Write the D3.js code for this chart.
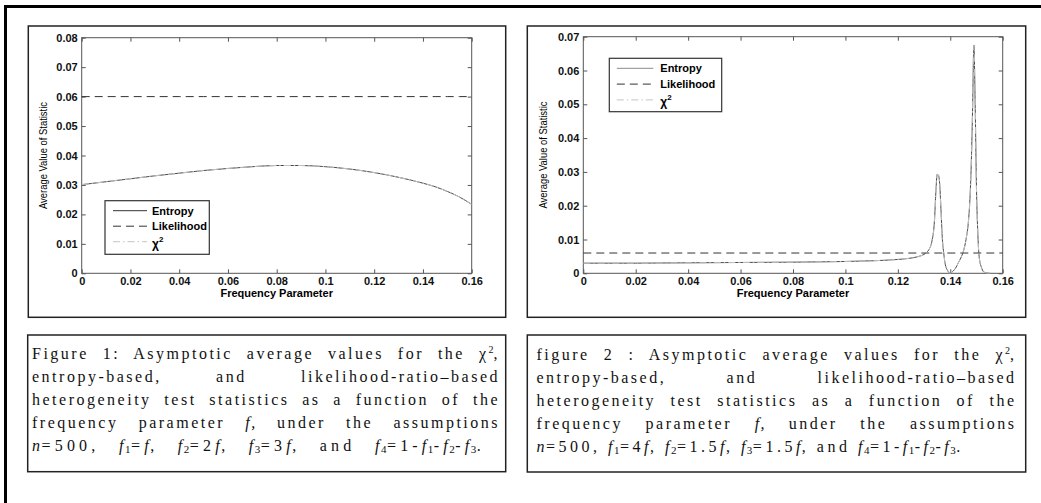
<!DOCTYPE html>
<html>
<head>
<meta charset="utf-8">
<script src="https://cdn.jsdelivr.net/npm/d3@7"></script>
<style>
  body { margin: 0; background: #fff; }
  #page { position: relative; width: 1041px; height: 503px; overflow: hidden; }
  svg { position: absolute; left: 0; top: 0; }
  .caption { position: absolute; font-family: "Liberation Serif", "Times New Roman", serif;
    font-size: 16px; line-height: 23px; letter-spacing: 2.5px; color: #111; }
  .caption .ln { text-align: justify; text-align-last: justify; white-space: nowrap; }
  .caption .ln.last { letter-spacing: 4.2px; }
  .caption .ln.left { text-align: left; text-align-last: left; }
  .caption i { letter-spacing: 1.5px; }
  .caption sub { font-size: 11px; line-height: 0; vertical-align: -2px; letter-spacing: 0.5px; }
  .caption sup { font-size: 10px; line-height: 0; vertical-align: 6px; letter-spacing: 0; }
  .tick text { font-family: "Liberation Sans", Arial, sans-serif; font-size: 11px; font-weight: bold; fill: #111; }
  .tick line { stroke: #555; }
</style>
</head>
<body>
<div id="page"></div>
<script>
'use strict';

// ---- figure 1 data (f1=f, f2=2f, f3=3f) ----
const fig1X = [0, 0.01, 0.02, 0.03, 0.04, 0.05, 0.06, 0.07, 0.08, 0.09, 0.10, 0.11, 0.12, 0.13, 0.14, 0.145, 0.15, 0.155, 0.16];
const fig1Entropy = [0.0301, 0.0311, 0.0321, 0.0331, 0.0340, 0.0349, 0.0356, 0.0362, 0.0366, 0.0366, 0.0362, 0.0354, 0.0342, 0.0326, 0.0306, 0.0294, 0.0278, 0.0259, 0.0234];
const fig1Chi2 = [0.0301, 0.0311, 0.0321, 0.0331, 0.0340, 0.0349, 0.0356, 0.0362, 0.0366, 0.0366, 0.0362, 0.0354, 0.0342, 0.0326, 0.0306, 0.0294, 0.0278, 0.0259, 0.0234];
const fig1Likelihood = [0.06, 0.06, 0.06, 0.06, 0.06, 0.06, 0.06, 0.06, 0.06, 0.06, 0.06, 0.06, 0.06, 0.06, 0.06, 0.06, 0.06, 0.06, 0.06];

// ---- figure 2 data (f1=4f, f2=1.5f, f3=1.5f) ----
const fig2X = [0, 0.02, 0.04, 0.06, 0.08, 0.10, 0.11, 0.12, 0.125, 0.128, 0.130, 0.131, 0.132, 0.133, 0.134, 0.1345, 0.135, 0.1355, 0.136, 0.1365, 0.137, 0.1375, 0.138, 0.139, 0.1398,
  0.141, 0.142, 0.143, 0.144, 0.145, 0.146, 0.147, 0.1475, 0.148, 0.1485, 0.149, 0.1495, 0.150, 0.1505, 0.151, 0.152, 0.153, 0.155];
const fig2Entropy = [0.0030, 0.0030, 0.0031, 0.0032, 0.0033, 0.0035, 0.0037, 0.0041, 0.0045, 0.0050, 0.0056, 0.0062, 0.0072, 0.0095, 0.0160, 0.0240, 0.0293, 0.0290, 0.0260, 0.0180, 0.0100, 0.0060, 0.0030, 0.0008, 0.0000,
  0.0006, 0.0015, 0.0030, 0.0045, 0.0065, 0.0100, 0.0160, 0.0220, 0.0320, 0.0480, 0.0675, 0.0500, 0.0250, 0.0120, 0.0050, 0.0015, 0.0003, 0.0000];
const fig2Chi2 = fig2Entropy.slice();
const fig2LikelihoodX = [0, 0.16];
const fig2Likelihood = [0.006, 0.006];

// ---- ticks ----
const xTicks = [0, 0.02, 0.04, 0.06, 0.08, 0.1, 0.12, 0.14, 0.16];
const xTickLabels = ['0', '0.02', '0.04', '0.06', '0.08', '0.1', '0.12', '0.14', '0.16'];
const fig1YTicks = [0, 0.01, 0.02, 0.03, 0.04, 0.05, 0.06, 0.07, 0.08];
const fig1YTickLabels = ['0', '0.01', '0.02', '0.03', '0.04', '0.05', '0.06', '0.07', '0.08'];
const fig2YTicks = [0, 0.01, 0.02, 0.03, 0.04, 0.05, 0.06, 0.07];
const fig2YTickLabels = ['0', '0.01', '0.02', '0.03', '0.04', '0.05', '0.06', '0.07'];

const seriesNames = ['Entropy', 'Likelihood', 'χ'];

const caption1Lines = [
  'Figure 1: Asymptotic average values for the χ<sup>2</sup>,',
  'entropy-based, and likelihood-ratio–based',
  'heterogeneity test statistics as a function of the',
  'frequency parameter <i>f,</i> under the assumptions',
  '<i>n</i>=500, <i>f</i><sub>1</sub>=<i>f</i>, <i>f</i><sub>2</sub>=2<i>f</i>, <i>f</i><sub>3</sub>=3<i>f</i>, and <i>f</i><sub>4</sub>=1-<i>f</i><sub>1</sub>-<i>f</i><sub>2</sub>-<i>f</i><sub>3</sub>.'
];
const caption2Lines = [
  'figure 2 : Asymptotic average values for the χ<sup>2</sup>,',
  'entropy-based, and likelihood-ratio–based',
  'heterogeneity test statistics as a function of the',
  'frequency parameter <i>f,</i> under the assumptions',
  '<i>n</i>=500, <i>f</i><sub>1</sub>=4<i>f</i>, <i>f</i><sub>2</sub>=1.5<i>f</i>, <i>f</i><sub>3</sub>=1.5<i>f</i>, and <i>f</i><sub>4</sub>=1-<i>f</i><sub>1</sub>-<i>f</i><sub>2</sub>-<i>f</i><sub>3</sub>.'
];

const W = 1041, H = 503;
const page = d3.select('#page');
const svg = page.append('svg').attr('width', W).attr('height', H);

// outer frame (runs off the right and bottom edge)
svg.append('rect')
  .attr('x', 5.5).attr('y', 6.5).attr('width', 1100).attr('height', 600)
  .attr('fill', 'none').attr('stroke', '#000').attr('stroke-width', 3);

// panel boxes
const boxes = [
  { x: 28.3, y: 26, w: 477.4, h: 291.3 },
  { x: 527.3, y: 26, w: 498.4, h: 291.3 },
  { x: 27.7, y: 335, w: 478, h: 136.7 },
  { x: 527.3, y: 335, w: 498.4, h: 137 }
];
svg.selectAll('rect.box')
  .data(boxes)
  .enter()
  .append('rect')
  .attr('class', 'box')
  .attr('x', d => d.x).attr('y', d => d.y)
  .attr('width', d => d.w).attr('height', d => d.h)
  .attr('fill', 'none').attr('stroke', '#222').attr('stroke-width', 1.5);

const styles = {
  Entropy: { stroke: '#4a4a4a', dash: null, width: 1 },
  Likelihood: { stroke: '#333', dash: '8,5', width: 1 },
  'χ': { stroke: '#c4c4c4', dash: '7,3,1.5,3', width: 1 }
};

const buildChart = (cfg) => {
  const x = d3.scaleLinear().domain([0, 0.16]).range([cfg.left, cfg.right]);
  const y = d3.scaleLinear().domain([0, cfg.yMax]).range([cfg.bottom, cfg.top]);
  const g = svg.append('g');

  // ticks on all four sides, pointing inward
  g.append('g')
    .attr('transform', 'translate(0,' + cfg.bottom + ')')
    .call(d3.axisBottom(x).tickValues(xTicks).tickFormat((d, i) => xTickLabels[i])
      .tickSizeInner(-4).tickSizeOuter(0).tickPadding(4))
    .call(a => a.select('.domain').remove());
  g.append('g')
    .attr('transform', 'translate(0,' + cfg.top + ')')
    .call(d3.axisTop(x).tickValues(xTicks).tickFormat('').tickSizeInner(-4).tickSizeOuter(0))
    .call(a => a.select('.domain').remove());
  g.append('g')
    .attr('transform', 'translate(' + cfg.left + ',0)')
    .call(d3.axisLeft(y).tickValues(cfg.yTicks).tickFormat((d, i) => cfg.yTickLabels[i])
      .tickSizeInner(-4).tickSizeOuter(0).tickPadding(4))
    .call(a => a.select('.domain').remove());
  g.append('g')
    .attr('transform', 'translate(' + cfg.right + ',0)')
    .call(d3.axisRight(y).tickValues(cfg.yTicks).tickFormat('').tickSizeInner(-4).tickSizeOuter(0))
    .call(a => a.select('.domain').remove());

  g.append('rect')
    .attr('x', cfg.left).attr('y', cfg.top)
    .attr('width', cfg.right - cfg.left).attr('height', cfg.bottom - cfg.top)
    .attr('fill', 'none').attr('stroke', '#555').attr('stroke-width', 1);

  // series
  const line = d3.line()
    .x(d => x(d[0]))
    .y(d => y(d[1]))
    .curve(d3.curveMonotoneX);
  cfg.series.forEach(s => {
    const st = styles[s.name];
    g.append('path')
      .datum(s.xs.map((v, i) => [v, s.ys[i]]))
      .attr('d', line)
      .attr('fill', 'none')
      .attr('stroke', st.stroke)
      .attr('stroke-width', st.width)
      .attr('stroke-dasharray', st.dash);
  });

  // axis labels
  g.append('text')
    .attr('x', (cfg.left + cfg.right) / 2)
    .attr('y', cfg.bottom + 23.5)
    .attr('text-anchor', 'middle')
    .style('font-family', '"Liberation Sans", Arial, sans-serif')
    .style('font-size', '11px')
    .style('font-weight', 'bold')
    .text('Frequency Parameter');
  g.append('text')
    .attr('transform', 'translate(' + cfg.yLabelX + ',' + (cfg.top + cfg.bottom) / 2 + ') rotate(-90)')
    .attr('text-anchor', 'middle')
    .attr('textLength', 107)
    .attr('lengthAdjust', 'spacingAndGlyphs')
    .style('font-family', '"Liberation Sans Narrow", "Arial Narrow", "Liberation Sans", sans-serif')
    .style('font-size', '11px')
    .text('Average Value of Statistic');

  // legend
  const lg = cfg.legend;
  const legend = g.append('g');
  legend.append('rect')
    .attr('x', lg.x).attr('y', lg.y).attr('width', lg.w).attr('height', lg.h)
    .attr('fill', '#fff').attr('stroke', '#333').attr('stroke-width', 1.2);
  const entry = legend.selectAll('g.entry')
    .data(seriesNames)
    .enter()
    .append('g')
    .attr('class', 'entry')
    .attr('transform', (d, i) => 'translate(' + lg.x + ',' + (lg.y + lg.row0 + i * lg.step) + ')');
  entry.append('line')
    .attr('x1', lg.lineX0).attr('x2', lg.lineX1)
    .attr('stroke', d => cfg.legendStroke[d] || styles[d].stroke)
    .attr('stroke-width', 1)
    .attr('stroke-dasharray', d => styles[d].dash);
  const lt = entry.append('text')
    .attr('x', lg.textX)
    .attr('y', 4)
    .style('font-family', '"Liberation Sans", Arial, sans-serif')
    .style('font-size', '11px')
    .style('font-weight', 'bold')
    .text(d => d);
  lt.filter(d => d === 'χ')
    .attr('y', 6)
    .style('font-size', '12px')
    .append('tspan')
    .attr('dy', -6)
    .style('font-size', '8px')
    .text('2');
};

buildChart({
  left: 81.7, right: 471.7, top: 37.7, bottom: 273.3,
  yMax: 0.08, yTicks: fig1YTicks, yTickLabels: fig1YTickLabels,
  yLabelX: 46.5,
  series: [
    { name: 'Entropy', xs: fig1X, ys: fig1Entropy },
    { name: 'Likelihood', xs: fig1X, ys: fig1Likelihood },
    { name: 'χ', xs: fig1X, ys: fig1Chi2 }
  ],
  legend: { x: 105, y: 200.7, w: 104.3, h: 53.6, row0: 10, step: 15.5, lineX0: 8, lineX1: 42, textX: 47 },
  legendStroke: { Entropy: '#333' }
});

buildChart({
  left: 583.3, right: 1002.7, top: 36.7, bottom: 273.3,
  yMax: 0.07, yTicks: fig2YTicks, yTickLabels: fig2YTickLabels,
  yLabelX: 546.5,
  series: [
    { name: 'Entropy', xs: fig2X, ys: fig2Entropy },
    { name: 'Likelihood', xs: fig2LikelihoodX, ys: fig2Likelihood },
    { name: 'χ', xs: fig2X, ys: fig2Chi2 }
  ],
  legend: { x: 609.3, y: 58.3, w: 112.4, h: 53.4, row0: 10, step: 15.8, lineX0: 7.5, lineX1: 44, textX: 51 },
  legendStroke: { Entropy: '#8a8a8a' }
});

// captions: lines are justified; the last line gets its own width / spacing
const addCaption = (lines, left, top, width, last) => {
  const cap = page.append('div')
    .attr('class', 'caption')
    .style('left', left + 'px')
    .style('top', top + 'px')
    .style('width', width + 'px');
  cap.selectAll('div.ln')
    .data(lines)
    .enter()
    .append('div')
    .attr('class', (d, i) => 'ln' + (i === lines.length - 1 ? ' last' + (last.justify ? '' : ' left') : ''))
    .style('width', (d, i) => (i === lines.length - 1 && last.width ? last.width : width) + 'px')
    .style('letter-spacing', (d, i) => (i === lines.length - 1 ? last.spacing + 'px' : null))
    .html(d => d);
};
addCaption(caption1Lines, 32, 341.5, 468, { justify: true, width: 453, spacing: 4.2 });
addCaption(caption2Lines, 536.5, 343, 480, { justify: false, spacing: 3.5 });
</script>
</body>
</html>
